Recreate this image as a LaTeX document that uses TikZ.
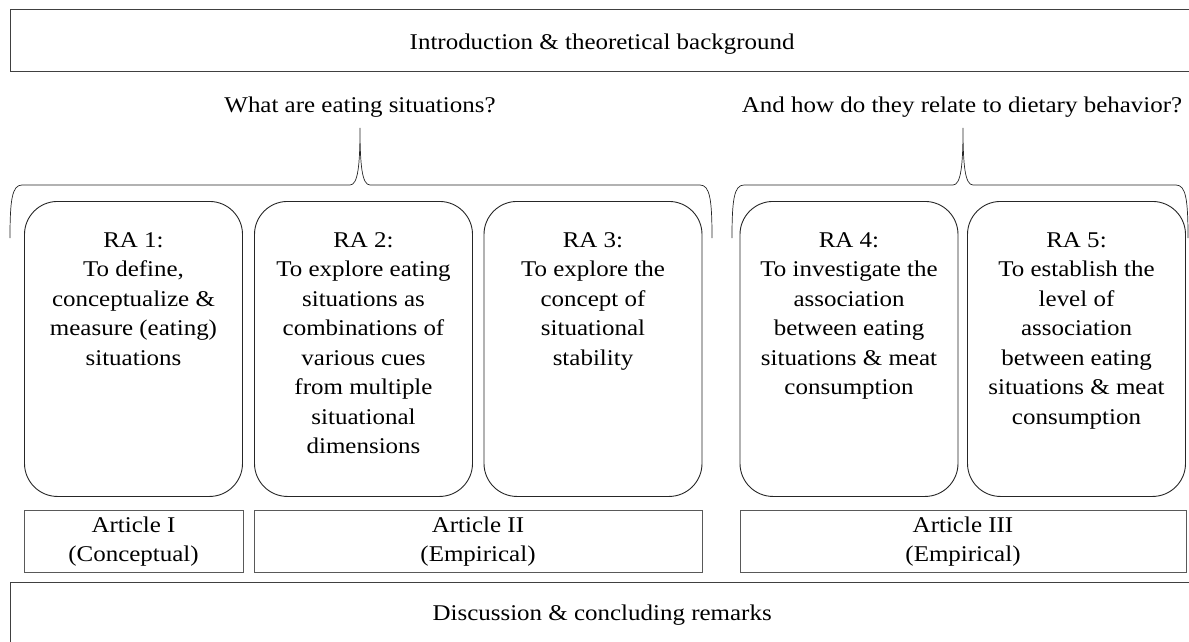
\documentclass[tikz,border=0pt]{standalone}
\usepackage{fontspec}
\setmainfont{Liberation Serif}[FakeStretch=1.11]
\begin{document}
\begin{tikzpicture}[x=1pt,y=-1pt,
  txt/.style={font=\fontsize{22.5}{29.5}\selectfont, align=center, inner sep=0pt},
  frame/.style={draw=black!75, line width=1.3pt, inner sep=0pt, font=\fontsize{22.5}{29.5}\selectfont},
  rabox/.style={draw=black!85, line width=0.9pt, rounded corners=33pt, minimum width=218pt, minimum height=295pt, anchor=north, inner sep=0pt},
  artbox/.style={draw=black!65, line width=1pt, minimum height=62pt, inner sep=0pt, txt, font=\fontsize{22.5}{28.5}\selectfont},
  brace/.style={draw=black!85, line width=0.7pt}
]
\useasboundingbox (0,0) rectangle (1189,642);
\clip (0,0) rectangle (1189,642);

% top and bottom frames
\node[frame, anchor=north west, minimum width=1183pt, minimum height=62pt,
      text height=20pt, text depth=3pt] (intro) at (10,9) {Introduction \& theoretical background};
\node[frame, anchor=north west, minimum width=1183pt, minimum height=76pt,
      text height=12pt, text depth=12pt] (disc) at (10,582) {Discussion \& concluding remarks};

% questions
\node[txt, anchor=base] (q1) at (360,112) {What are eating situations?};
\node[txt, anchor=base] (q2) at (962,112) {And how do they relate to dietary behavior?};

% braces
\draw[brace] (10,238) .. controls (10,200) and (12,185) .. (22,185) -- (350,185)
  .. controls (358,185) and (360,165) .. (360,128)
  .. controls (360,165) and (362,185) .. (370,185) -- (700,185)
  .. controls (710,185) and (712,200) .. (712,238);
\draw[brace] (732,238) .. controls (732,200) and (734,185) .. (744,185) -- (953,185)
  .. controls (961,185) and (963,165) .. (963,128)
  .. controls (963,165) and (965,185) .. (973,185) -- (1176,185)
  .. controls (1186,185) and (1188,200) .. (1188,238);

% research aims
\node[rabox] (ra1) at (133.5,201) {};
\node[rabox] (ra2) at (363.5,201) {};
\node[rabox] (ra3) at (593,201) {};
\node[rabox] (ra4) at (849,201) {};
\node[rabox] (ra5) at (1076.5,201) {};

\node[txt, anchor=north] (t1) at (133.5,232) {RA 1:\\To define,\\conceptualize \&\\measure (eating)\\situations};
\node[txt, anchor=north] (t2) at (363.5,232) {RA 2:\\To explore eating\\situations as\\combinations of\\various cues\\from multiple\\situational\\dimensions};
\node[txt, anchor=north] (t3) at (593,232) {RA 3:\\To explore the\\concept of\\situational\\stability};
\node[txt, anchor=north] (t4) at (849,232) {RA 4:\\To investigate the\\association\\between eating\\situations \& meat\\consumption};
\node[txt, anchor=north] (t5) at (1076.5,232) {RA 5:\\To establish the\\level of\\association\\between eating\\situations \& meat\\consumption};

% articles
\node[artbox, minimum width=219pt] (a1) at (133.5,541.5) {Article I\\(Conceptual)};
\node[artbox, minimum width=448pt] (a2) at (478,541.5) {Article II\\(Empirical)};
\node[artbox, minimum width=446pt] (a3) at (963,541.5) {Article III\\(Empirical)};
\end{tikzpicture}
\end{document}
